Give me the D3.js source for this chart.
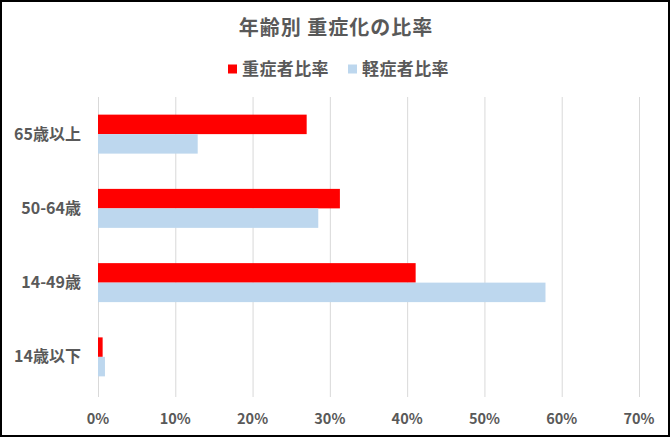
<!DOCTYPE html>
<html lang="ja">
<head>
<meta charset="utf-8">
<title>年齢別 重症化の比率</title>
<script src="https://cdn.jsdelivr.net/npm/d3@7"></script>
<style>
  html, body { margin: 0; padding: 0; background: #fff; }
  svg { display: block; font-family: 'Noto Sans CJK JP', 'Noto Sans', sans-serif; }
  .grid line { stroke: #d9d9d9; stroke-width: 1; }
  .grid path { display: none; }
  .lbl { fill: #595959; font-weight: bold; }
</style>
</head>
<body>
<svg width="670" height="437"></svg>
<script>
var categories = ["65歳以上", "50-64歳", "14-49歳", "14歳以下"];
var severe = [0.27, 0.313, 0.411, 0.006];   // 重症者比率
var mild = [0.129, 0.285, 0.579, 0.009];    // 軽症者比率
var seriesNames = ["重症者比率", "軽症者比率"];
var seriesColors = ["#ff0000", "#bdd7ee"];
var xTicks = [0, 0.1, 0.2, 0.3, 0.4, 0.5, 0.6, 0.7];

var svg = d3.select("svg"),
    margin = {top: 97, right: 31, bottom: 40, left: 98},
    width = 670 - margin.left - margin.right,
    height = 437 - margin.top - margin.bottom;

// outer frame
svg.append("rect")
    .attr("x", 1).attr("y", 1)
    .attr("width", 668).attr("height", 435)
    .attr("fill", "#fff")
    .attr("stroke", "#000")
    .attr("stroke-width", 2);

var x = d3.scaleLinear().domain([0, 0.7]).range([0, 541]),
    y = d3.scaleBand().domain(categories).range([0, 297]).paddingInner(0.475).paddingOuter(0.2375),
    y1 = d3.scaleBand().domain([0, 1]).range([0, y.bandwidth()]);

var g = svg.append("g")
    .attr("transform", "translate(" + margin.left + "," + margin.top + ")");

g.append("g")
    .attr("class", "grid")
    .call(d3.axisBottom(x).tickValues(xTicks).tickSize(300).tickFormat(""));

var rows = g.selectAll(".row")
  .data(categories)
  .enter().append("g")
    .attr("class", "row")
    .attr("transform", function(d) { return "translate(0," + y(d) + ")"; });

rows.selectAll("rect")
  .data(function(d, i) { return [severe[i], mild[i]]; })
  .enter().append("rect")
    .attr("x", x(0))
    .attr("y", function(d, j) { return y1(j); })
    .attr("width", function(d) { return x(d) - x(0); })
    .attr("height", y1.bandwidth())
    .attr("fill", function(d, j) { return seriesColors[j]; });

// category labels
g.selectAll(".ylab")
  .data(categories)
  .enter().append("text")
    .attr("class", "lbl")
    .attr("x", -17)
    .attr("y", function(d) { return y(d) + y.bandwidth() / 2; })
    .attr("dy", "0.35em")
    .attr("text-anchor", "end")
    .style("font-size", "16px")
    .text(function(d) { return d; });

// x tick labels
g.selectAll(".xlab")
  .data(xTicks)
  .enter().append("text")
    .attr("class", "lbl")
    .attr("x", function(d) { return x(d); })
    .attr("y", 327)
    .attr("text-anchor", "middle")
    .style("font-size", "14.5px")
    .text(d3.format(".0%"));

// title
svg.append("text")
    .attr("class", "lbl")
    .attr("x", 336).attr("y", 35)
    .attr("text-anchor", "middle")
    .style("font-size", "20px")
    .style("letter-spacing", "1px")
    .text("年齢別 重症化の比率");

// legend
var legendX = [228, 348];
var legend = svg.selectAll(".legend")
  .data(seriesNames)
  .enter().append("g")
    .attr("transform", function(d, i) { return "translate(" + legendX[i] + ",69)"; });

legend.append("rect")
    .attr("x", 0).attr("y", -4.5)
    .attr("width", 9).attr("height", 9)
    .attr("fill", function(d, i) { return seriesColors[i]; });

legend.append("text")
    .attr("class", "lbl")
    .attr("x", 14).attr("dy", "0.36em")
    .style("font-size", "17px")
    .style("letter-spacing", "0.4px")
    .text(function(d) { return d; });
</script>
</body>
</html>
